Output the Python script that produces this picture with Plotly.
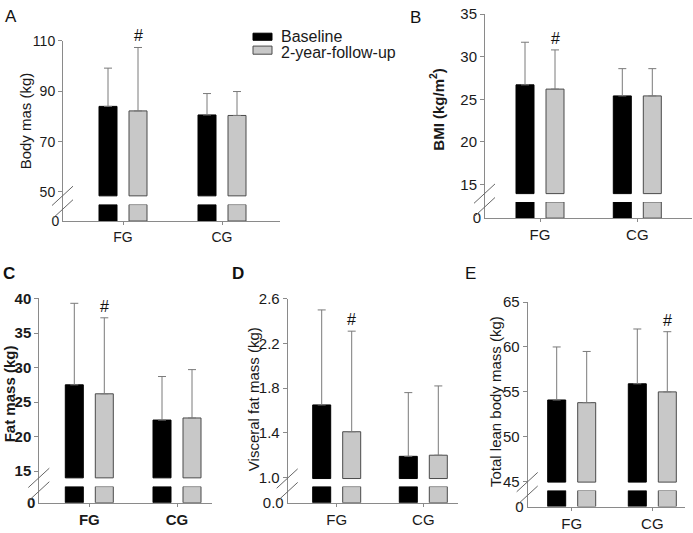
import plotly.graph_objects as go

W, H = 693, 533
FONT = "Liberation Sans, Arial, sans-serif"

# ---------------- data ----------------
groups = ["FG", "CG"]
series = ["Baseline", "2-year-follow-up"]

body_mass_baseline = [84.0, 80.6]
body_mass_baseline_sd = [15.2, 8.5]
body_mass_followup = [82.2, 80.4]
body_mass_followup_sd = [25.2, 9.5]
body_mass_ticks = [50, 70, 90, 110]
body_mass_sig = [(1, 0)]          # (series index, group index) marked with '#'

bmi_baseline = [26.7, 25.4]
bmi_baseline_sd = [5.0, 3.2]
bmi_followup = [26.2, 25.4]
bmi_followup_sd = [4.6, 3.2]
bmi_ticks = [15, 20, 25, 30, 35]
bmi_sig = [(1, 0)]

fat_mass_baseline = [27.5, 22.4]
fat_mass_baseline_sd = [11.8, 6.3]
fat_mass_followup = [26.2, 22.7]
fat_mass_followup_sd = [11.0, 7.0]
fat_mass_ticks = [15, 20, 25, 30, 35, 40]
fat_mass_sig = [(1, 0)]

visceral_baseline = [1.65, 1.19]
visceral_baseline_sd = [0.85, 0.57]
visceral_followup = [1.41, 1.20]
visceral_followup_sd = [0.90, 0.62]
visceral_ticks = [1.0, 1.4, 1.8, 2.2, 2.6]
visceral_sig = [(1, 0)]

lean_baseline = [54.1, 55.9]
lean_baseline_sd = [5.9, 6.1]
lean_followup = [53.8, 55.0]
lean_followup_sd = [5.7, 6.7]
lean_ticks = [45, 50, 55, 60, 65]
lean_sig = [(1, 1)]

# ---------------- panel layout (pixel geometry) ----------------
panels = [
    dict(letter="A", title="Body mas (kg)", bold=False, fmt="d", tsize=14, tbold=False,
         means=[body_mass_baseline, body_mass_followup],
         sds=[body_mass_baseline_sd, body_mass_followup_sd],
         ticks=body_mass_ticks, sig=body_mass_sig,
         ax=63, xr=280, c0=123, c1=222, top_px=33, tlo_px=189,
         stub_px=202, base_px=193, bottom_px=219,
         title_xy=(25, 115), letter_xy=(11, 8), letter_bold=False),
    dict(letter="B", title="BMI (kg/m<sup>2</sup>)", bold=True, fmt="d", tsize=15, tbold=False,
         means=[bmi_baseline, bmi_followup],
         sds=[bmi_baseline_sd, bmi_followup_sd],
         ticks=bmi_ticks, sig=bmi_sig,
         ax=485, xr=692, c0=540, c1=637.3, top_px=5.3, tlo_px=181.3,
         stub_px=199.3, base_px=190.7, bottom_px=216,
         title_xy=(437, 104), letter_xy=(415, 9), letter_bold=False),
    dict(letter="C", title="Fat mass (kg)", bold=True, fmt="d", tsize=15, tbold=True,
         means=[fat_mass_baseline, fat_mass_followup],
         sds=[fat_mass_baseline_sd, fat_mass_followup_sd],
         ticks=fat_mass_ticks, sig=fat_mass_sig,
         ax=39.3, xr=212, c0=89.3, c1=177, top_px=299, tlo_px=477.4,
         stub_px=493.3, base_px=484.3, bottom_px=510,
         title_xy=(9, 398), letter_xy=(9, 273), letter_bold=True),
    dict(letter="D", title="Visceral fat mass (kg)", bold=False, fmt=".1f", tsize=15, tbold=False,
         means=[visceral_baseline, visceral_followup],
         sds=[visceral_baseline_sd, visceral_followup_sd],
         ticks=visceral_ticks, sig=visceral_sig,
         ax=287.7, xr=458, c0=336.7, c1=423.3, top_px=299.3, tlo_px=484,
         stub_px=493.3, base_px=485, bottom_px=510,
         title_xy=(253, 403), letter_xy=(238, 273), letter_bold=True),
    dict(letter="E", title="Total lean body mass (kg)", bold=False, fmt="d", tsize=15, tbold=False,
         means=[lean_baseline, lean_followup],
         sds=[lean_baseline_sd, lean_followup_sd],
         ticks=lean_ticks, sig=lean_sig,
         ax=527.7, xr=685, c0=571.7, c1=652.3, top_px=302.7, tlo_px=488.3,
         stub_px=497.3, base_px=488.7, bottom_px=514,
         title_xy=(495, 406), letter_xy=(470, 273), letter_bold=False),
]

fills = ["#000000", "#c8c8c8"]
outlines = ["#000000", "#4a4a4a"]
bar_off_px = [-24, 6]
bar_w_px = 18
AXC = "#8a8a8a"
ERRC = "#7a7a7a"
TXT = "#1a1a1a"


def px(x):
    return x / W


def py(y):
    return 1 - y / H


fig = go.Figure()
layout = dict(width=W, height=H, margin=dict(l=0, r=0, t=0, b=0), autosize=False,
              paper_bgcolor="white", plot_bgcolor="white",
              font=dict(family=FONT, size=15, color=TXT),
              barmode="overlay", showlegend=False)
annotations = []
shapes = []

for i, p in enumerate(panels):
    n = i + 1
    xid = "x" if n == 1 else f"x{n}"
    yu = "y" if n == 1 else f"y{n}"
    yl = f"y{n + 5}"
    ticks = p["ticks"]
    t_lo, t_hi = ticks[0], ticks[-1]
    ppu = (p["tlo_px"] - p["top_px"]) / (t_hi - t_lo)
    lo = t_lo - (p["stub_px"] - p["tlo_px"]) / ppu
    base = t_lo - (p["base_px"] - p["tlo_px"]) / ppu
    unit = p["c1"] - p["c0"]
    xr0 = -(p["c0"] - p["ax"]) / unit
    xr1 = xr0 + (p["xr"] - p["ax"]) / unit
    wid = bar_w_px / unit
    tfont = dict(family=FONT, size=p["tsize"], color=TXT,
                 weight="bold" if p["tbold"] else "normal")

    for s in range(2):
        means = p["means"][s]
        sds = p["sds"][s]
        off = bar_off_px[s] / unit
        # upper segment (above the axis break)
        fig.add_trace(go.Bar(
            x=groups, y=[m - base for m in means], base=base,
            customdata=means, hovertemplate="%{x}: %{customdata}<extra>" + series[s] + "</extra>",
            width=wid, offset=off, xaxis=xid, yaxis=yu,
            name=series[s], legendgroup=series[s],
            marker=dict(color=fills[s], line=dict(color=outlines[s], width=1)),
            error_y=dict(type="data", array=sds, arrayminus=[0] * len(sds), symmetric=False,
                         color=ERRC, thickness=1, width=4),
        ))
        # lower stub (below the axis break)
        fig.add_trace(go.Bar(
            x=groups, y=[lo] * len(groups), width=wid, offset=off,
            xaxis=xid, yaxis=yl, name=series[s], legendgroup=series[s],
            hoverinfo="skip", cliponaxis=False,
            marker=dict(color=fills[s], line=dict(color=outlines[s], width=1)),
        ))
        for (ss, g) in p["sig"]:
            if ss == s:
                annotations.append(dict(
                    x=g + off + wid / 2, y=means[g] + sds[g], xref=xid, yref=yu,
                    text="#", showarrow=False, yanchor="bottom", yshift=1,
                    font=dict(family=FONT, size=16, color="#111111")))

    layout["xaxis" if n == 1 else f"xaxis{n}"] = dict(
        domain=[px(p["ax"]), px(p["xr"])], anchor=yl, type="category",
        range=[xr0, xr1], showline=True, linecolor=AXC, linewidth=1,
        ticks="outside", ticklen=3, tickcolor=AXC, showgrid=False,
        zeroline=False, tickfont=tfont, fixedrange=True)
    layout["yaxis" if n == 1 else f"yaxis{n}"] = dict(
        domain=[py(p["stub_px"]), py(p["top_px"])], anchor=xid,
        range=[lo, t_hi], tickvals=ticks, tickformat=p["fmt"],
        showline=True, linecolor=AXC, linewidth=1, ticks="outside", ticklen=4,
        tickcolor=AXC, showgrid=False, zeroline=False, tickfont=tfont, fixedrange=True)
    layout[f"yaxis{n + 5}"] = dict(
        domain=[py(p["bottom_px"]), py(p["stub_px"])], anchor=xid,
        range=[0, lo], tickvals=[0], tickformat=p["fmt"],
        showline=True, linecolor=AXC, linewidth=1, ticks="", showgrid=False,
        zeroline=False, tickfont=tfont, fixedrange=True)

    # axis-break marks
    for c in (p["base_px"], p["base_px"] + 14):
        shapes.append(dict(type="line", xref="paper", yref="paper",
                           x0=px(p["ax"] - 11), y0=py(c + 10),
                           x1=px(p["ax"] + 10), y1=py(c - 10),
                           line=dict(color="#666666", width=1)))

    tx, ty = p["title_xy"]
    annotations.append(dict(
        x=px(tx), y=py(ty), xref="paper", yref="paper", text=p["title"],
        textangle=-90, showarrow=False, xanchor="center", yanchor="middle",
        font=dict(family=FONT, size=15, color=TXT,
                  weight="bold" if p["bold"] else "normal")))
    lx, ly = p["letter_xy"]
    annotations.append(dict(
        x=px(lx), y=py(ly), xref="paper", yref="paper", text=p["letter"],
        showarrow=False, xanchor="center", yanchor="middle",
        font=dict(family=FONT, size=17, color="#111111",
                  weight="bold" if p["letter_bold"] else "normal")))

# legend (drawn as key boxes + labels)
legend_rows = [(25, 32.3, 28.5), (38.3, 46.7, 44.5)]
for s, (y0, y1, yt) in enumerate(legend_rows):
    shapes.append(dict(type="rect", xref="paper", yref="paper",
                       x0=px(253), x1=px(272), y0=py(y1), y1=py(y0),
                       fillcolor=fills[s], line=dict(color=outlines[s], width=1)))
    annotations.append(dict(x=px(279), y=py(yt), xref="paper", yref="paper",
                            text=series[s], showarrow=False, xanchor="left", yanchor="middle",
                            font=dict(family=FONT, size=16, color=TXT)))

layout["annotations"] = annotations
layout["shapes"] = shapes
fig.update_layout(**layout)

fig.write_html("out.html", config={"displayModeBar": False},
               post_script="document.body.style.margin='0';document.body.style.overflow='hidden';")
